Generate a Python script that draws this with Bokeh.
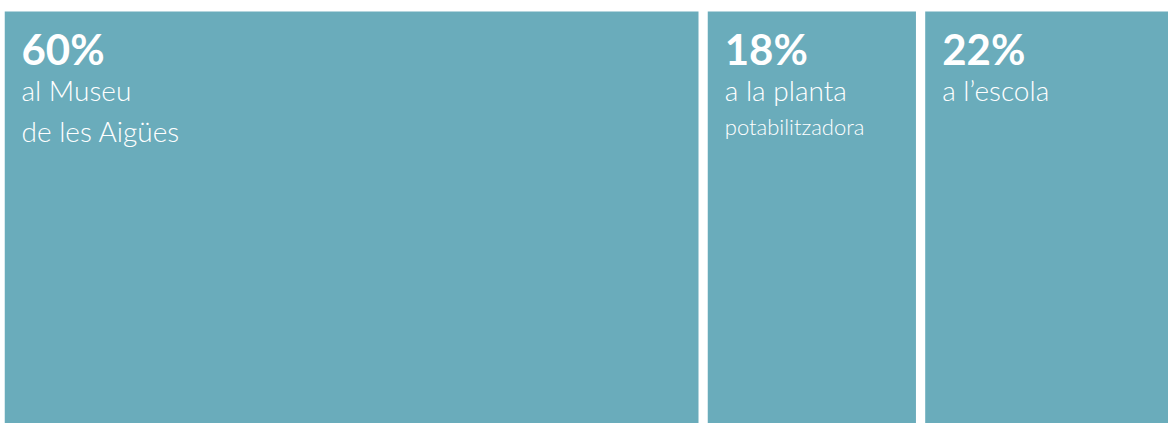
from bokeh.plotting import figure
from bokeh.models import Range1d, ColumnDataSource
from bokeh.core.properties import value
from bokeh.embed import file_html
from bokeh.resources import INLINE

# ---- data ----
values = [60, 18, 22]
titles = ["60%", "18%", "22%"]
line1 = ["al Museu", "a la planta", "a l\u2019escola"]
line2 = ["de les Aig\u00fces", "", ""]
line2_small = ["", "potabilitzadora", ""]

# ---- layout constants ----
W, H = 1164, 415
GAP = 0.8           # gap between blocks, in percent units
PX_PER_UNIT = 694 / 60.0
XMAX = W / PX_PER_UNIT
TOP = 1 - 3 / H
COLOR = "#6aacbb"

lefts, rights = [], []
pos = 0.0
for v in values:
    lefts.append(pos)
    rights.append(pos + v)
    pos += v + GAP

src = ColumnDataSource(dict(
    left=lefts, right=rights,
    top=[TOP] * len(values), bottom=[0] * len(values),
    title=titles, l1=line1, l2=line2, l3=line2_small,
))

p = figure(width=W, height=H, output_backend="svg", toolbar_location=None,
           x_range=Range1d(0, XMAX), y_range=Range1d(0, 1),
           min_border=0, min_border_left=0, min_border_right=0,
           min_border_top=0, min_border_bottom=0)
p.styles = {"margin-left": "4px", "margin-top": "8px"}
p.axis.visible = False
p.grid.visible = False
p.outline_line_color = None
p.background_fill_color = "white"
p.border_fill_color = "white"

p.quad(left="left", right="right", top="top", bottom="bottom", source=src,
       fill_color=COLOR, line_color=None)

bold_font = value("Lato")
light_font = value("'Lato Light', Lato, sans-serif")

p.text(x="left", y="top", text="title", source=src, x_offset=17, y_offset=37,
       text_font=bold_font, text_font_style="bold", text_font_size="42px",
       text_color="white", text_baseline="alphabetic", text_align="left")
p.text(x="left", y="top", text="l1", source=src, x_offset=17, y_offset=78,
       text_font=light_font, text_font_size="28px",
       text_color="white", text_baseline="alphabetic", text_align="left")
p.text(x="left", y="top", text="l2", source=src, x_offset=17, y_offset=119,
       text_font=light_font, text_font_size="28px",
       text_color="white", text_baseline="alphabetic", text_align="left")
p.text(x="left", y="top", text="l3", source=src, x_offset=17, y_offset=115,
       text_font=light_font, text_font_size="22px",
       text_color="white", text_baseline="alphabetic", text_align="left")

open("out.html", "w").write(file_html(p, INLINE))
